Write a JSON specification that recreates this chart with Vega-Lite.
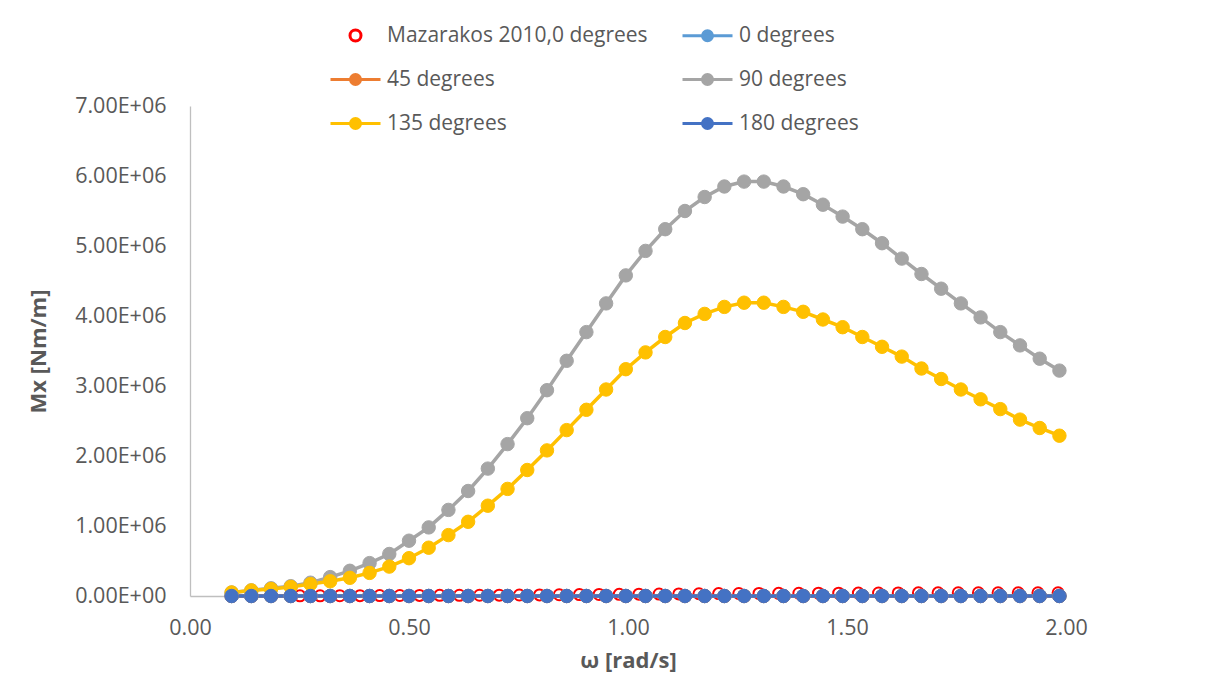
{
  "$schema": "https://vega.github.io/schema/vega-lite/v6.json",
  "width": 876,
  "height": 490,
  "autosize": {"type": "none"},
  "padding": {"left": 190, "top": 106, "right": 143, "bottom": 99},
  "background": "white",
  "config": {
    "view": {"stroke": null},
    "font": "Open Sans",
    "axis": {
      "grid": false,
      "ticks": false,
      "tickSize": 0,
      "labelFlush": false,
      "domainColor": "#BFBFBF",
      "domainWidth": 1.3,
      "labelColor": "#595959",
      "labelFontSize": 21.5,
      "labelFont": "Open Sans",
      "titleColor": "#595959",
      "titleFontSize": 22,
      "titleFontWeight": "bold",
      "titleFont": "Open Sans"
    }
  },
  "datasets": {
    "main": [
      {"w": 0.095, "0 degrees": 0, "45 degrees": 0, "90 degrees": 50000, "135 degrees": 50000, "180 degrees": 0},
      {"w": 0.140, "0 degrees": 0, "45 degrees": 0, "90 degrees": 80000, "135 degrees": 80000, "180 degrees": 0},
      {"w": 0.185, "0 degrees": 0, "45 degrees": 0, "90 degrees": 110000, "135 degrees": 100000, "180 degrees": 0},
      {"w": 0.230, "0 degrees": 0, "45 degrees": 0, "90 degrees": 140000, "135 degrees": 130000, "180 degrees": 0},
      {"w": 0.275, "0 degrees": 0, "45 degrees": 0, "90 degrees": 190000, "135 degrees": 170000, "180 degrees": 0},
      {"w": 0.320, "0 degrees": 0, "45 degrees": 0, "90 degrees": 270000, "135 degrees": 210000, "180 degrees": 0},
      {"w": 0.365, "0 degrees": 0, "45 degrees": 0, "90 degrees": 360000, "135 degrees": 260000, "180 degrees": 0},
      {"w": 0.410, "0 degrees": 0, "45 degrees": 0, "90 degrees": 470000, "135 degrees": 330000, "180 degrees": 0},
      {"w": 0.455, "0 degrees": 0, "45 degrees": 0, "90 degrees": 600000, "135 degrees": 420000, "180 degrees": 0},
      {"w": 0.500, "0 degrees": 0, "45 degrees": 0, "90 degrees": 790000, "135 degrees": 540000, "180 degrees": 0},
      {"w": 0.545, "0 degrees": 0, "45 degrees": 0, "90 degrees": 980000, "135 degrees": 690000, "180 degrees": 0},
      {"w": 0.590, "0 degrees": 0, "45 degrees": 0, "90 degrees": 1230000, "135 degrees": 870000, "180 degrees": 0},
      {"w": 0.635, "0 degrees": 0, "45 degrees": 0, "90 degrees": 1500000, "135 degrees": 1060000, "180 degrees": 0},
      {"w": 0.680, "0 degrees": 0, "45 degrees": 0, "90 degrees": 1820000, "135 degrees": 1290000, "180 degrees": 0},
      {"w": 0.725, "0 degrees": 0, "45 degrees": 0, "90 degrees": 2170000, "135 degrees": 1530000, "180 degrees": 0},
      {"w": 0.770, "0 degrees": 0, "45 degrees": 0, "90 degrees": 2540000, "135 degrees": 1800000, "180 degrees": 0},
      {"w": 0.815, "0 degrees": 0, "45 degrees": 0, "90 degrees": 2940000, "135 degrees": 2080000, "180 degrees": 0},
      {"w": 0.860, "0 degrees": 0, "45 degrees": 0, "90 degrees": 3360000, "135 degrees": 2370000, "180 degrees": 0},
      {"w": 0.905, "0 degrees": 0, "45 degrees": 0, "90 degrees": 3770000, "135 degrees": 2660000, "180 degrees": 0},
      {"w": 0.950, "0 degrees": 0, "45 degrees": 0, "90 degrees": 4180000, "135 degrees": 2950000, "180 degrees": 0},
      {"w": 0.995, "0 degrees": 0, "45 degrees": 0, "90 degrees": 4580000, "135 degrees": 3240000, "180 degrees": 0},
      {"w": 1.040, "0 degrees": 0, "45 degrees": 0, "90 degrees": 4930000, "135 degrees": 3480000, "180 degrees": 0},
      {"w": 1.085, "0 degrees": 0, "45 degrees": 0, "90 degrees": 5240000, "135 degrees": 3700000, "180 degrees": 0},
      {"w": 1.130, "0 degrees": 0, "45 degrees": 0, "90 degrees": 5500000, "135 degrees": 3900000, "180 degrees": 0},
      {"w": 1.175, "0 degrees": 0, "45 degrees": 0, "90 degrees": 5700000, "135 degrees": 4030000, "180 degrees": 0},
      {"w": 1.220, "0 degrees": 0, "45 degrees": 0, "90 degrees": 5850000, "135 degrees": 4130000, "180 degrees": 0},
      {"w": 1.265, "0 degrees": 0, "45 degrees": 0, "90 degrees": 5920000, "135 degrees": 4190000, "180 degrees": 0},
      {"w": 1.310, "0 degrees": 0, "45 degrees": 0, "90 degrees": 5920000, "135 degrees": 4190000, "180 degrees": 0},
      {"w": 1.355, "0 degrees": 0, "45 degrees": 0, "90 degrees": 5850000, "135 degrees": 4130000, "180 degrees": 0},
      {"w": 1.400, "0 degrees": 0, "45 degrees": 0, "90 degrees": 5740000, "135 degrees": 4060000, "180 degrees": 0},
      {"w": 1.445, "0 degrees": 0, "45 degrees": 0, "90 degrees": 5590000, "135 degrees": 3950000, "180 degrees": 0},
      {"w": 1.490, "0 degrees": 0, "45 degrees": 0, "90 degrees": 5420000, "135 degrees": 3840000, "180 degrees": 0},
      {"w": 1.535, "0 degrees": 0, "45 degrees": 0, "90 degrees": 5240000, "135 degrees": 3700000, "180 degrees": 0},
      {"w": 1.580, "0 degrees": 0, "45 degrees": 0, "90 degrees": 5040000, "135 degrees": 3560000, "180 degrees": 0},
      {"w": 1.625, "0 degrees": 0, "45 degrees": 0, "90 degrees": 4820000, "135 degrees": 3420000, "180 degrees": 0},
      {"w": 1.670, "0 degrees": 0, "45 degrees": 0, "90 degrees": 4600000, "135 degrees": 3250000, "180 degrees": 0},
      {"w": 1.715, "0 degrees": 0, "45 degrees": 0, "90 degrees": 4390000, "135 degrees": 3100000, "180 degrees": 0},
      {"w": 1.760, "0 degrees": 0, "45 degrees": 0, "90 degrees": 4180000, "135 degrees": 2950000, "180 degrees": 0},
      {"w": 1.805, "0 degrees": 0, "45 degrees": 0, "90 degrees": 3980000, "135 degrees": 2810000, "180 degrees": 0},
      {"w": 1.850, "0 degrees": 0, "45 degrees": 0, "90 degrees": 3770000, "135 degrees": 2670000, "180 degrees": 0},
      {"w": 1.895, "0 degrees": 0, "45 degrees": 0, "90 degrees": 3580000, "135 degrees": 2520000, "180 degrees": 0},
      {"w": 1.940, "0 degrees": 0, "45 degrees": 0, "90 degrees": 3390000, "135 degrees": 2400000, "180 degrees": 0},
      {"w": 1.985, "0 degrees": 0, "45 degrees": 0, "90 degrees": 3220000, "135 degrees": 2290000, "180 degrees": 0}
    ],
    "maz": [
      {"s": "Mazarakos 2010,0 degrees", "w": 0.251, "m": 2000},
      {"s": "Mazarakos 2010,0 degrees", "w": 0.297, "m": 3000},
      {"s": "Mazarakos 2010,0 degrees", "w": 0.342, "m": 4000},
      {"s": "Mazarakos 2010,0 degrees", "w": 0.388, "m": 5000},
      {"s": "Mazarakos 2010,0 degrees", "w": 0.433, "m": 6000},
      {"s": "Mazarakos 2010,0 degrees", "w": 0.479, "m": 7000},
      {"s": "Mazarakos 2010,0 degrees", "w": 0.524, "m": 8000},
      {"s": "Mazarakos 2010,0 degrees", "w": 0.570, "m": 9000},
      {"s": "Mazarakos 2010,0 degrees", "w": 0.615, "m": 10000},
      {"s": "Mazarakos 2010,0 degrees", "w": 0.661, "m": 11000},
      {"s": "Mazarakos 2010,0 degrees", "w": 0.706, "m": 12000},
      {"s": "Mazarakos 2010,0 degrees", "w": 0.752, "m": 14000},
      {"s": "Mazarakos 2010,0 degrees", "w": 0.798, "m": 16000},
      {"s": "Mazarakos 2010,0 degrees", "w": 0.843, "m": 18000},
      {"s": "Mazarakos 2010,0 degrees", "w": 0.889, "m": 20000},
      {"s": "Mazarakos 2010,0 degrees", "w": 0.934, "m": 22000},
      {"s": "Mazarakos 2010,0 degrees", "w": 0.980, "m": 24000},
      {"s": "Mazarakos 2010,0 degrees", "w": 1.025, "m": 26000},
      {"s": "Mazarakos 2010,0 degrees", "w": 1.071, "m": 28000},
      {"s": "Mazarakos 2010,0 degrees", "w": 1.116, "m": 30000},
      {"s": "Mazarakos 2010,0 degrees", "w": 1.162, "m": 32000},
      {"s": "Mazarakos 2010,0 degrees", "w": 1.207, "m": 34000},
      {"s": "Mazarakos 2010,0 degrees", "w": 1.253, "m": 36000},
      {"s": "Mazarakos 2010,0 degrees", "w": 1.299, "m": 37000},
      {"s": "Mazarakos 2010,0 degrees", "w": 1.344, "m": 38000},
      {"s": "Mazarakos 2010,0 degrees", "w": 1.390, "m": 39000},
      {"s": "Mazarakos 2010,0 degrees", "w": 1.435, "m": 40000},
      {"s": "Mazarakos 2010,0 degrees", "w": 1.481, "m": 41000},
      {"s": "Mazarakos 2010,0 degrees", "w": 1.526, "m": 42000},
      {"s": "Mazarakos 2010,0 degrees", "w": 1.572, "m": 43000},
      {"s": "Mazarakos 2010,0 degrees", "w": 1.617, "m": 44000},
      {"s": "Mazarakos 2010,0 degrees", "w": 1.663, "m": 45000},
      {"s": "Mazarakos 2010,0 degrees", "w": 1.708, "m": 45000},
      {"s": "Mazarakos 2010,0 degrees", "w": 1.754, "m": 46000},
      {"s": "Mazarakos 2010,0 degrees", "w": 1.800, "m": 46000},
      {"s": "Mazarakos 2010,0 degrees", "w": 1.845, "m": 46000},
      {"s": "Mazarakos 2010,0 degrees", "w": 1.891, "m": 46000},
      {"s": "Mazarakos 2010,0 degrees", "w": 1.936, "m": 46000},
      {"s": "Mazarakos 2010,0 degrees", "w": 1.982, "m": 46000}
    ]
  },
  "encoding": {
    "x": {
      "field": "w", "type": "quantitative",
      "scale": {"domain": [0, 2], "nice": false, "zero": false},
      "axis": {"values": [0, 0.5, 1, 1.5, 2], "format": ".2f", "title": "ω [rad/s]", "labelPadding": 21, "titlePadding": 12}
    },
    "y": {
      "field": "m", "type": "quantitative",
      "scale": {"domain": [0, 7000000], "nice": false},
      "axis": {
        "values": [0, 1000000, 2000000, 3000000, 4000000, 5000000, 6000000, 7000000],
        "labelExpr": "datum.value == 0 ? '0.00E+00' : format(datum.value / 1000000, '.2f') + 'E+06'",
        "title": "Mx [Nm/m]", "labelPadding": 24, "titlePadding": 24
      }
    }
  },
  "layer": [
    {
      "data": {"name": "maz"},
      "mark": {"type": "point", "size": 400, "strokeWidth": 2, "opacity": 1},
      "encoding": {
        "stroke": {
          "field": "s", "type": "nominal",
          "scale": {"domain": ["Mazarakos 2010,0 degrees", "0 degrees", "45 degrees", "90 degrees", "135 degrees", "180 degrees"], "range": ["#FF0000", "#5B9BD5", "#ED7D31", "#A5A5A5", "#FFC000", "#4472C4"]},
          "legend": {"title": null, "orient": "none", "direction": "horizontal", "legendX": 154, "legendY": -82, "columns": 2, "columnPadding": 28, "rowPadding": 21, "symbolSize": 400, "symbolStrokeWidth": 3, "symbolOpacity": 1, "labelOffset": 20, "labelFontSize": 21, "labelColor": "#595959", "labelFont": "Open Sans", "labelLimit": 400, "padding": 0}
        },
        "fill": {
          "field": "s", "type": "nominal",
          "scale": {"domain": ["Mazarakos 2010,0 degrees", "0 degrees", "45 degrees", "90 degrees", "135 degrees", "180 degrees"], "range": ["transparent", "#5B9BD5", "#ED7D31", "#A5A5A5", "#FFC000", "#4472C4"]},
          "legend": {"title": null, "orient": "none", "direction": "horizontal", "legendX": 154, "legendY": -82, "columns": 2, "columnPadding": 28, "rowPadding": 21, "symbolSize": 400, "symbolStrokeWidth": 3, "symbolOpacity": 1, "labelOffset": 20, "labelFontSize": 21, "labelColor": "#595959", "labelFont": "Open Sans", "labelLimit": 400, "padding": 0}
        },
        "shape": {
          "field": "s", "type": "nominal",
          "scale": {"domain": ["Mazarakos 2010,0 degrees", "0 degrees", "45 degrees", "90 degrees", "135 degrees", "180 degrees"], "range": [
            "M-0.55,0A0.55,0.55 0 1,1 0.55,0A0.55,0.55 0 1,1 -0.55,0Z",
            "M-2.5,0L2.5,0M-0.5,0A0.5,0.5 0 1,1 0.5,0A0.5,0.5 0 1,1 -0.5,0Z",
            "M-2.5,0L2.5,0M-0.5,0A0.5,0.5 0 1,1 0.5,0A0.5,0.5 0 1,1 -0.5,0Z",
            "M-2.5,0L2.5,0M-0.5,0A0.5,0.5 0 1,1 0.5,0A0.5,0.5 0 1,1 -0.5,0Z",
            "M-2.5,0L2.5,0M-0.5,0A0.5,0.5 0 1,1 0.5,0A0.5,0.5 0 1,1 -0.5,0Z",
            "M-2.5,0L2.5,0M-0.5,0A0.5,0.5 0 1,1 0.5,0A0.5,0.5 0 1,1 -0.5,0Z"
          ]},
          "legend": {"title": null, "orient": "none", "direction": "horizontal", "legendX": 154, "legendY": -82, "columns": 2, "columnPadding": 28, "rowPadding": 21, "symbolSize": 400, "symbolStrokeWidth": 3, "symbolOpacity": 1, "labelOffset": 20, "labelFontSize": 21, "labelColor": "#595959", "labelFont": "Open Sans", "labelLimit": 400, "padding": 0}
        }
      }
    },
    {
      "data": {"name": "main"},
      "transform": [{"fold": ["0 degrees", "45 degrees", "90 degrees", "135 degrees", "180 degrees"], "as": ["s", "m"]}],
      "mark": {"type": "line", "strokeWidth": 3.5},
      "encoding": {
        "stroke": {"field": "s", "type": "nominal", "legend": null},
        "detail": {"field": "s"}
      }
    },
    {
      "data": {"name": "main"},
      "transform": [{"fold": ["0 degrees", "45 degrees", "90 degrees", "135 degrees", "180 degrees"], "as": ["s", "m"]}],
      "mark": {"type": "point", "size": 180, "strokeWidth": 1, "opacity": 1, "shape": "circle"},
      "encoding": {
        "stroke": {"field": "s", "type": "nominal", "legend": null},
        "fill": {"field": "s", "type": "nominal", "legend": null}
      }
    }
  ]
}
